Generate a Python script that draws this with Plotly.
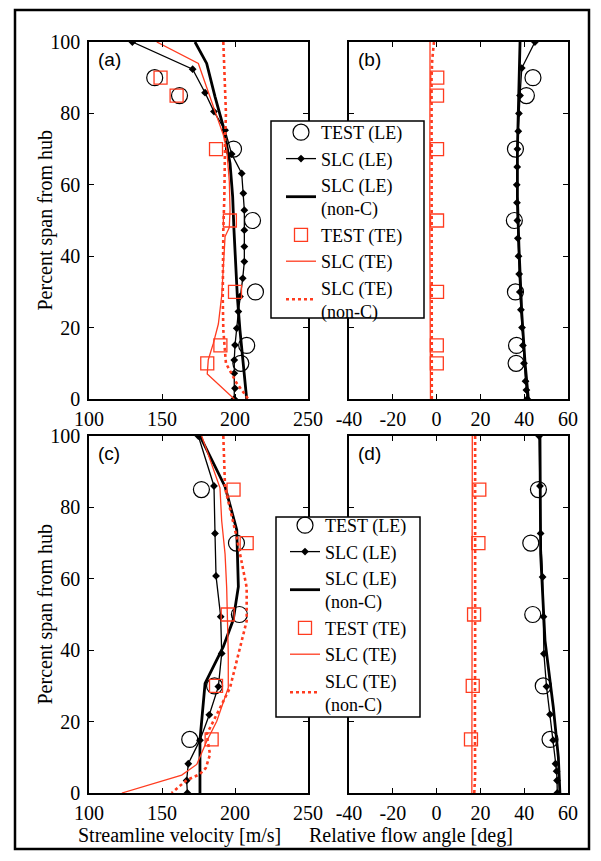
import plotly.graph_objects as go

W, H = 601, 861

# ---------------- data ----------------
SPAN_TEST_TOP = [90, 85, 70, 50, 30, 15, 10]
SPAN_TEST_BOT = [85, 70, 50, 30, 15]

# Panel (a) streamline velocity, top
a_test_le = [145, 162, 199, 212, 214, 208, 204]
a_test_te = [149, 160, 187, 196.5, 200, 190, 181]
a_slc_le_span = [100, 92.4, 85.8, 80.5, 75.3, 68.6, 63.2, 57.6, 52.9, 47.3, 42.7,
                 38.5, 33.8, 28.7, 24.5, 19.8, 15.1, 10.9, 7.2, 3, 0]
a_slc_le = [129.7, 171, 179.5, 185.6, 193.2, 197.7, 204.6, 205.7, 206.4, 206.4, 206.4,
            206.4, 205.3, 203.4, 202.3, 201.2, 200, 199.5, 199.5, 200, 199.5]
a_nonc_le_span = [100, 94, 84.7, 76.3, 66, 56.7, 47.3, 38, 28.7, 19.3, 10, 0]
a_nonc_le = [172.6, 180.6, 186.3, 192, 196.6, 198.4, 199.3, 200.5, 201.6, 203.4, 205.7, 208]
a_slc_te_span = [100, 94, 82, 74, 70, 61, 53, 48, 45.5, 38, 29, 21, 15.5, 11, 7, 0]
a_slc_te = [146.4, 174.9, 185.1, 192, 194.3, 196.1, 196.6, 196.1, 193.2, 192, 190.9,
            188.6, 185.1, 181.7, 181, 199.5]
a_nonc_te_span = [100, 89.4, 80, 72.5, 66, 56.7, 47.3, 38, 28.7, 19.3, 10, 4.4, 0]
a_nonc_te = [192, 193.2, 193.8, 193.2, 193.2, 192.7, 192, 191.6, 191.6, 192, 193.8, 201.2, 209.1]

# Panel (b) relative flow angle, top
b_test_le = [44, 41, 36, 35.5, 36, 36.5, 36.3]
b_test_te = [0.3, 0.2, 0.2, 0.2, 0.2, 0.1, 0.1]
b_slc_le_span = [100, 92.7, 85, 80, 75, 70, 65, 60, 55, 50, 45, 40, 35, 30, 25, 20, 15, 10, 5, 2.5, 0]
b_slc_le = [44.9, 38.9, 38.1, 37.6, 37.3, 36.9, 36.8, 36.6, 36.7, 36.9, 37.1, 37.4, 37.7,
            38.0, 38.5, 39.0, 39.4, 39.9, 40.6, 41.0, 41.4]
b_nonc_le_span = [100, 94, 84.7, 70, 56.7, 42.7, 24, 10, 0]
b_nonc_le = [38.1, 37.9, 37.5, 36.9, 36.9, 37.6, 38.9, 40.4, 41.9]
b_slc_te_span = [100, 90, 80, 70, 60, 50, 40, 30, 20, 10, 0]
b_slc_te = [-3.0, -3.1, -3.2, -3.2, -3.1, -3.1, -3.0, -3.0, -2.9, -2.9, -2.8]
b_nonc_te_span = [100, 95, 90, 80, 70, 60, 50, 40, 30, 20, 10, 0]
b_nonc_te = [-1.2, -2.0, -2.3, -2.3, -2.4, -2.3, -2.3, -2.4, -2.3, -2.2, -2.3, -2.2]

# Panel (c) streamline velocity, bottom
c_test_le = [177, 201, 203, 186, 169]
c_test_te = [199, 208, 195, 187, 184]
c_slc_le_span = [100, 86, 72.7, 60.8, 49.4, 39.1, 29.8, 21.9, 14.8, 8.2, 3.5, 0]
c_slc_le = [174.9, 185.6, 186.3, 187, 190.2, 190.9, 188.6, 182.4, 176, 168, 166.9, 167.4]
c_nonc_le_span = [100, 85.8, 73.7, 57.8, 48.5, 41, 30.7, 20.4, 14.8, 0]
c_nonc_le = [176, 193.2, 201.2, 202.3, 198.8, 192, 179.5, 177.2, 176, 176]
c_slc_te_span = [100, 85.5, 76.2, 66.9, 57.5, 48.2, 38.9, 29.5, 20.1, 14.5, 8, 5, 0]
c_slc_te = [177.2, 189.7, 190.9, 193.2, 194.3, 195, 195.4, 195.4, 187.5, 180.6, 173.8, 163.5, 122.5]
c_nonc_te_span = [100, 85.5, 71.6, 57.6, 48.2, 38.9, 29.5, 22, 16.4, 10.8, 7, 5.3, 3.6, 0]
c_nonc_te = [192, 193.2, 201.2, 208, 208, 202.3, 196.6, 187.5, 180.6, 182.9, 180, 176, 166.9, 156.6]

# Panel (d) relative flow angle, bottom
d_test_le = [46.5, 43, 43.9, 48.7, 51.8]
d_test_te = [19.5, 19.1, 17.1, 16.5, 15.7]
d_slc_le_span = [100, 86, 72.7, 60.5, 49.4, 39, 29.8, 22, 14.8, 8.2, 6.1, 3.5, 0]
d_slc_le = [46.8, 47.2, 47.5, 48.4, 48.8, 49, 50.2, 51.8, 53.2, 54.3, 54.8, 55, 55.1]
d_nonc_le_span = [100, 67, 42.7, 24, 10, 0]
d_nonc_le = [47.2, 47.5, 49.5, 53.3, 55.6, 56.3]
d_slc_te_span = [100, 80, 60, 40, 20, 10, 0]
d_slc_te = [16.3, 16.3, 16.2, 16.1, 16.0, 16.0, 16.1]
d_nonc_te_span = [100, 80, 60, 40, 20, 5, 0]
d_nonc_te = [17.6, 17.7, 17.7, 17.6, 17.5, 17.6, 17.2]

names = ["TEST (LE)", "SLC (LE)", "SLC (LE)<br>(non-C)",
         "TEST (TE)", "SLC (TE)", "SLC (TE)<br>(non-C)"]
vel_ticks = [100, 150, 200, 250]
ang_ticks = [-40, -20, 0, 20, 40, 60]
span_ticks = [0, 20, 40, 60, 80, 100]

# ---------------- styling ----------------
RED = "#ff3b1f"
SERIF = '"Liberation Serif", "Times New Roman", Times, "DejaVu Serif", serif'
SANS = '"Liberation Sans", Arial, Helvetica, sans-serif'

def px_x(p):
    return p / W

def px_y(p):
    return 1 - p / H

fig = go.Figure()

panels = [
    ("x", "y", SPAN_TEST_TOP, a_test_le, a_test_te, a_slc_le_span, a_slc_le, a_nonc_le_span, a_nonc_le,
     a_slc_te_span, a_slc_te, a_nonc_te_span, a_nonc_te, "legend", True),
    ("x2", "y2", SPAN_TEST_TOP, b_test_le, b_test_te, b_slc_le_span, b_slc_le, b_nonc_le_span, b_nonc_le,
     b_slc_te_span, b_slc_te, b_nonc_te_span, b_nonc_te, "legend", False),
    ("x3", "y3", SPAN_TEST_BOT, c_test_le, c_test_te, c_slc_le_span, c_slc_le, c_nonc_le_span, c_nonc_le,
     c_slc_te_span, c_slc_te, c_nonc_te_span, c_nonc_te, "legend2", True),
    ("x4", "y4", SPAN_TEST_BOT, d_test_le, d_test_te, d_slc_le_span, d_slc_le, d_nonc_le_span, d_nonc_le,
     d_slc_te_span, d_slc_te, d_nonc_te_span, d_nonc_te, "legend2", False),
]

for (xa, ya, tspan, tle, tte, sls, sl, nls, nl, sts, st, nts, nt, leg, show) in panels:
    common = dict(xaxis=xa, yaxis=ya, legend=leg, showlegend=show)
    fig.add_trace(go.Scatter(x=tle, y=tspan, mode="markers", name=names[0],
                             marker=dict(symbol="circle-open", size=16, color="black",
                                         line=dict(width=1.2, color="black")), legendrank=1, **common))
    fig.add_trace(go.Scatter(x=sl, y=sls, mode="lines+markers", name=names[1],
                             line=dict(color="black", width=1.3),
                             marker=dict(symbol="diamond", size=6, color="black"), legendrank=2, **common))
    fig.add_trace(go.Scatter(x=nl, y=nls, mode="lines", name=names[2],
                             line=dict(color="black", width=2.8), legendrank=3, **common))
    fig.add_trace(go.Scatter(x=tte, y=tspan, mode="markers", name=names[3],
                             marker=dict(symbol="square-open", size=13, color=RED,
                                         line=dict(width=1.3, color=RED)), legendrank=4, **common))
    fig.add_trace(go.Scatter(x=st, y=sts, mode="lines", name=names[4],
                             line=dict(color=RED, width=1.3), legendrank=5, **common))
    fig.add_trace(go.Scatter(x=nt, y=nts, mode="lines", name=names[5],
                             line=dict(color=RED, width=2.6, dash="dot"), legendrank=6, **common))

# panel boxes (page px)
left_x = (89, 308)
right_x = (349, 568)
top_y = (42, 399)
bot_y = (436, 793)

def xax(dom, rng, ticks, anchor):
    return dict(domain=[px_x(dom[0]), px_x(dom[1])], range=rng, tickvals=ticks,
                ticktext=[str(t) for t in ticks], showgrid=False, zeroline=False,
                showline=True, linecolor="black", linewidth=1.5, mirror="ticks",
                ticks="inside", ticklen=5, tickwidth=1.2, tickcolor="black",
                tickfont=dict(family=SERIF, size=20, color="black"), anchor=anchor,
                ticklabelstandoff=1, automargin=False)

def yax(dom, labels, anchor):
    return dict(domain=[px_y(dom[1]), px_y(dom[0])], range=[0, 100], tickvals=span_ticks,
                showgrid=False, zeroline=False, showline=True, linecolor="black",
                linewidth=1.5, mirror="ticks", ticks="inside", ticklen=5, tickwidth=1.2,
                tickcolor="black", showticklabels=labels,
                tickfont=dict(family=SERIF, size=20, color="black"), anchor=anchor,
                ticklabelstandoff=3, automargin=False)

legend_common = dict(bgcolor="rgba(0,0,0,0)", borderwidth=0,
                     font=dict(family=SERIF, size=18, color="black"),
                     xanchor="left", yanchor="top", traceorder="normal",
                     itemwidth=30, tracegroupgap=0)

# legend boxes (page px): x0, x1, y0, y1
leg1_box = (271, 424, 121, 318)
leg2_box = (276, 420, 517, 717)

def box_shape(b, width=1.5, fill="white", layer="above"):
    return dict(type="rect", xref="paper", yref="paper",
                x0=px_x(b[0]), x1=px_x(b[1]), y0=px_y(b[3]), y1=px_y(b[2]),
                line=dict(color="black", width=width), fillcolor=fill, layer=layer)

fig.update_layout(
    template="none",
    width=W, height=H,
    margin=dict(l=0, r=0, t=0, b=0, pad=0, autoexpand=False),
    paper_bgcolor="white", plot_bgcolor="white",
    xaxis=xax(left_x, [100, 250], vel_ticks, "y"),
    yaxis=yax(top_y, True, "x"),
    xaxis2=xax(right_x, [-40, 60], ang_ticks, "y2"),
    yaxis2=yax(top_y, False, "x2"),
    xaxis3=xax(left_x, [100, 250], vel_ticks, "y3"),
    yaxis3=yax(bot_y, True, "x3"),
    xaxis4=xax(right_x, [-40, 60], ang_ticks, "y4"),
    yaxis4=yax(bot_y, False, "x4"),
    legend=dict(x=px_x(281), y=px_y(114), **legend_common),
    legend2=dict(x=px_x(285), y=px_y(507), **legend_common),
    shapes=[box_shape((15, 589, 10, 849), width=2.5, fill="rgba(0,0,0,0)", layer="below"),
            box_shape(leg1_box), box_shape(leg2_box)],
)

annots = []
for xa, ya, lab in [("x", "y", "(a)"), ("x2", "y2", "(b)"), ("x3", "y3", "(c)"), ("x4", "y4", "(d)")]:
    annots.append(dict(text=lab, xref=f"{xa} domain", yref=f"{ya} domain", x=0.03, y=0.985,
                       xanchor="left", yanchor="top", showarrow=False,
                       font=dict(family=SANS, size=19, color="black")))
for yc in [(top_y[0] + top_y[1]) / 2, (bot_y[0] + bot_y[1]) / 2]:
    annots.append(dict(text="Percent span from hub", xref="paper", yref="paper",
                       x=px_x(45), y=px_y(yc), textangle=-90, showarrow=False,
                       xanchor="center", yanchor="middle",
                       font=dict(family=SERIF, size=20, color="black")))
annots.append(dict(text="Streamline velocity [m/s]", xref="paper", yref="paper",
                   x=px_x(179), y=px_y(835), showarrow=False, xanchor="center", yanchor="middle",
                   font=dict(family=SERIF, size=20, color="black")))
annots.append(dict(text="Relative flow angle [deg]", xref="paper", yref="paper",
                   x=px_x(411), y=px_y(835), showarrow=False, xanchor="center", yanchor="middle",
                   font=dict(family=SERIF, size=20, color="black")))
fig.update_layout(annotations=annots)

fig.write_html("out.html", config={"displayModeBar": False},
               post_script="document.body.style.margin='0px';document.body.style.overflow='hidden';")
